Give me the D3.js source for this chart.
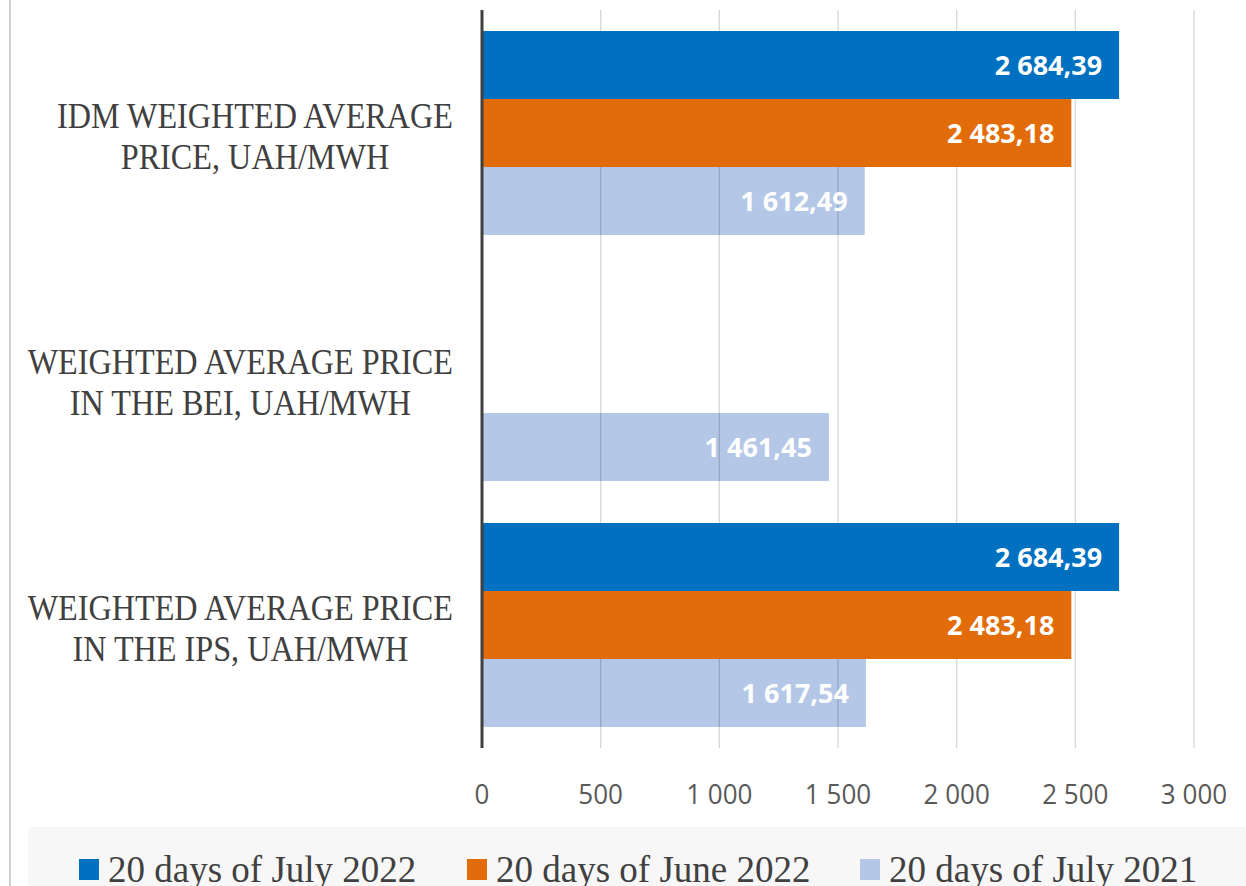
<!DOCTYPE html>
<html>
<head>
<meta charset="utf-8">
<script src="https://cdn.jsdelivr.net/npm/d3@7"></script>
<style>
  html, body { margin: 0; padding: 0; background: #ffffff; }
  svg { display: block; }
</style>
</head>
<body>
<svg id="chart" width="1246" height="886"></svg>
<script>
// ---- data ----
const categories = [
  "IDM WEIGHTED AVERAGE PRICE, UAH/MWH",
  "WEIGHTED AVERAGE PRICE IN THE BEI, UAH/MWH",
  "WEIGHTED AVERAGE PRICE IN THE IPS, UAH/MWH"
];
const categoryLines = [
  ["IDM WEIGHTED AVERAGE", "PRICE, UAH/MWH"],
  ["WEIGHTED AVERAGE PRICE", "IN THE BEI, UAH/MWH"],
  ["WEIGHTED AVERAGE PRICE", "IN THE IPS, UAH/MWH"]
];
const seriesNames = ["20 days of July 2022", "20 days of June 2022", "20 days of July 2021"];
const july2022 = [2684.39, null, 2684.39];
const june2022 = [2483.18, null, 2483.18];
const july2021 = [1612.49, 1461.45, 1617.54];
const tickValues = [0, 500, 1000, 1500, 2000, 2500, 3000];
const tickLabels = ["0", "500", "1 000", "1 500", "2 000", "2 500", "3 000"];

const seriesValues = [july2022, june2022, july2021];
const colors = ["#0070c0", "#e36c0a", "#b4c7e7"];

// ---- layout ----
const svg = d3.select("#chart");
const plotTop = 10, plotBottom = 748;
const x = d3.scaleLinear().domain([0, 3000]).range([482, 1194]);
const y = d3.scaleBand().domain(categories).range([plotTop, plotBottom]);
const ySub = d3.scaleBand().domain(seriesNames).range([21, y.bandwidth() - 21]);

const fmt = v => {
  const s = v.toFixed(2).replace(".", ",");
  const [i, dec] = s.split(",");
  return i.replace(/\B(?=(\d{3})+(?!\d))/g, " ") + "," + dec;
};

function addText(parent, px, py, str, opts) {
  const g = parent.append("g").attr("transform", `translate(${px},${py}) scale(${opts.sx || 1},1)`);
  return g.append("text")
    .attr("x", 0).attr("y", 0)
    .attr("text-anchor", opts.anchor || "start")
    .attr("font-family", opts.family)
    .attr("font-size", opts.size)
    .attr("font-weight", opts.weight || "normal")
    .attr("fill", opts.fill)
    .text(str);
}

// left frame line
svg.append("line").attr("x1", 10).attr("x2", 10).attr("y1", 0).attr("y2", 886)
  .attr("stroke", "#cfcfcf").attr("stroke-width", 2);

// legend background
svg.append("rect").attr("x", 28).attr("y", 827).attr("width", 1246 - 28).attr("height", 886 - 827)
  .attr("fill", "#f7f7f7");

const rows = [];
categories.forEach((c, ci) => {
  seriesNames.forEach((s, si) => {
    const v = seriesValues[si][ci];
    if (v != null) rows.push({ c, s, si, v });
  });
});

function drawBars(filter) {
  svg.append("g").selectAll("rect")
    .data(rows.filter(filter))
    .join("rect")
    .attr("x", x(0))
    .attr("y", d => y(d.c) + ySub(d.s))
    .attr("width", d => x(d.v) - x(0))
    .attr("height", ySub.bandwidth())
    .attr("fill", d => colors[d.si]);
}

// light bars underneath gridlines
drawBars(d => d.si === 2);

// gridlines
svg.append("g").selectAll("line")
  .data(tickValues.filter(t => t > 0))
  .join("line")
  .attr("x1", d => x(d)).attr("x2", d => x(d))
  .attr("y1", plotTop).attr("y2", plotBottom)
  .attr("stroke", "#000").attr("stroke-opacity", 0.16).attr("stroke-width", 1.3);

// dark bars above gridlines
drawBars(d => d.si !== 2);

// axis line
svg.append("line").attr("x1", x(0)).attr("x2", x(0)).attr("y1", plotTop).attr("y2", plotBottom)
  .attr("stroke", "#404040").attr("stroke-width", 3);

// value labels
rows.forEach(d => {
  addText(svg, x(d.v) - 17, y(d.c) + ySub(d.s) + ySub.bandwidth() / 2 + 10, fmt(d.v),
    { family: "'Open Sans', sans-serif", size: 27, weight: "bold", fill: "#ffffff", anchor: "end", sx: 1 });
});

// tick labels
tickValues.forEach((t, i) => {
  addText(svg, x(t), 804, tickLabels[i],
    { family: "'Open Sans', sans-serif", size: 28, fill: "#595959", anchor: "middle", sx: 0.93 });
});

// category labels: block right-aligned at 453, lines centred within block
const catSx = 0.895;
categories.forEach((c, ci) => {
  const cy = y(c) + y.bandwidth() / 2;
  const texts = categoryLines[ci].map((line, li) =>
    addText(svg, 0, cy - 5 + li * 41, line,
      { family: "'Liberation Serif', 'Times New Roman', serif", size: 36, fill: "#404040", anchor: "middle", sx: catSx }));
  const widths = texts.map(t => t.node().getComputedTextLength() * catSx);
  const blockW = Math.max(...widths);
  const cx = 453 - blockW / 2;
  texts.forEach((t, li) => {
    d3.select(t.node().parentNode).attr("transform", `translate(${cx},${cy - 5 + li * 41}) scale(${catSx},1)`);
  });
});

// legend
const legendX = [79, 467, 860];
seriesNames.forEach((s, i) => {
  svg.append("rect").attr("x", legendX[i]).attr("y", 859).attr("width", 20).attr("height", 21)
    .attr("fill", colors[i]);
  addText(svg, legendX[i] + 29, 882, s,
    { family: "'Liberation Serif', 'Times New Roman', serif", size: 37, fill: "#404040", anchor: "start", sx: 1 });
});
</script>
</body>
</html>
